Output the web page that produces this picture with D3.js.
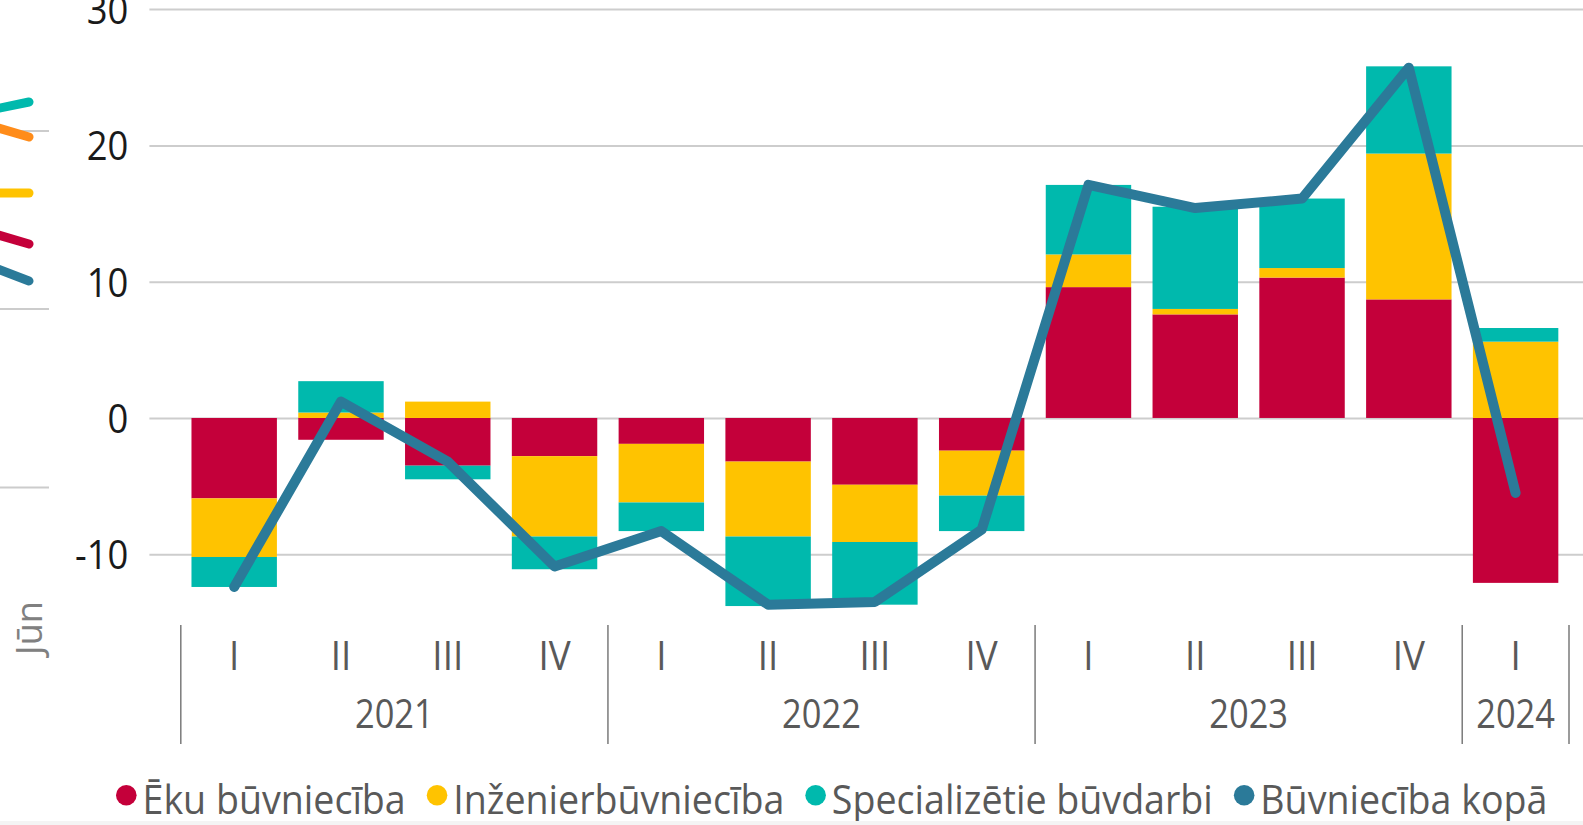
<!DOCTYPE html>
<html>
<head>
<meta charset="utf-8">
<script src="https://cdn.jsdelivr.net/npm/d3@7"></script>
<style>
  body { margin: 0; background: #fff; }
  svg { display: block; font-family: "Open Sans", sans-serif; }
</style>
</head>
<body>
<svg width="1583" height="825"></svg>
<script>
// periods on the x axis (year + quarter)
var years = ["2021", "2022", "2023", "2024"];
var periodYear = ["2021", "2021", "2021", "2021", "2022", "2022", "2022", "2022", "2023", "2023", "2023", "2023", "2024"];
var quarters = ["I", "II", "III", "IV", "I", "II", "III", "IV", "I", "II", "III", "IV", "I"];

// contributions, percentage points
var ekuBuvn = [-5.9, -1.6, -3.5, -2.8, -1.9, -3.2, -4.9, -2.4, 9.6, 7.6, 10.3, 8.7, -12.1];
var inzenierBuvn = [-4.3, 0.4, 1.2, -5.9, -4.3, -5.5, -4.2, -3.3, 2.4, 0.4, 0.7, 10.7, 5.6];
var specBuvdarbi = [-2.2, 2.3, -1.0, -2.4, -2.1, -5.1, -4.6, -2.6, 5.1, 7.5, 5.1, 6.4, 1.0];
// total, %
var buvnKopa = [-12.4, 1.2, -3.2, -10.9, -8.3, -13.7, -13.5, -8.2, 17.1, 15.4, 16.1, 25.7, -5.5];

var yTicks = [-10, 0, 10, 20, 30];

var seriesNames = ["Ēku būvniecība", "Inženierbūvniecība", "Specializētie būvdarbi", "Būvniecība kopā"];
var colors = ["#c4003a", "#ffc300", "#00b9ad", "#2b7a99"];

var svg = d3.select("svg");

var cats = quarters.map(function(q, i) { return periodYear[i] + " " + q; });
var rows = cats.map(function(c, i) {
  return { cat: c, eku: ekuBuvn[i], inz: inzenierBuvn[i], spec: specBuvdarbi[i] };
});

var x = d3.scaleBand().domain(cats).range([180.8, 1569]).paddingInner(0.2).paddingOuter(0.1);
var y = d3.scaleLinear().domain([-15, 30]).range([622.4, 9.1]);

// cropped edge of the neighbouring chart on the left
var edge = svg.append("g");
[131, 309, 487.5].forEach(function(gy) {
  edge.append("line").attr("x1", 0).attr("x2", 49).attr("y1", gy).attr("y2", gy)
    .attr("stroke", "#cccccc").attr("stroke-width", 2);
});
var stubs = [
  ["#00b9ad", 109, 102], ["#ff8c1a", 127, 137], ["#ffc300", 193, 193],
  ["#c4003a", 234, 244], ["#2b7a99", 268, 281]
];
stubs.forEach(function(s) {
  edge.append("line").attr("x1", -5).attr("y1", s[1]).attr("x2", 29).attr("y2", s[2])
    .attr("stroke", s[0]).attr("stroke-width", 9).attr("stroke-linecap", "round");
});
edge.append("text").attr("transform", "translate(42,655) rotate(-90)")
  .attr("font-size", 36).attr("fill", "#808080").text("Jūn");

// grid + y axis
var yAxis = svg.append("g").attr("transform", "translate(149.4,0)")
  .call(d3.axisLeft(y).tickValues(yTicks).tickSize(-(1583 - 149.4)).tickFormat(function(d) { return String(d); }))
  .attr("font-family", null).attr("font-size", null);
yAxis.select(".domain").remove();
yAxis.selectAll(".tick line").attr("stroke", "#cdcdcd").attr("stroke-width", 2);
yAxis.selectAll(".tick text")
  .attr("x", 0).attr("dy", "0.36em")
  .attr("transform", "translate(-21,0) scale(0.91,1)")
  .attr("font-size", 40).attr("fill", "#1a1a1a");

// stacked bars
var stack = d3.stack().keys(["eku", "inz", "spec"]).offset(d3.stackOffsetDiverging);
var layers = stack(rows);

svg.append("g").selectAll("g")
  .data(layers)
  .enter().append("g")
  .attr("fill", function(d, i) { return colors[i]; })
  .selectAll("rect")
  .data(function(d) { return d; })
  .enter().append("rect")
  .attr("x", function(d) { return x(d.data.cat); })
  .attr("y", function(d) { return y(Math.max(d[0], d[1])); })
  .attr("width", x.bandwidth())
  .attr("height", function(d) { return Math.abs(y(d[0]) - y(d[1])); });

// total line
var line = d3.line()
  .x(function(d, i) { return x(cats[i]) + x.bandwidth() / 2; })
  .y(function(d) { return y(d); });

svg.append("path")
  .datum(buvnKopa)
  .attr("d", line)
  .attr("fill", "none")
  .attr("stroke", colors[3])
  .attr("stroke-width", 10)
  .attr("stroke-linejoin", "round")
  .attr("stroke-linecap", "round");

// x axis: quarters
var xAxis = svg.append("g").attr("transform", "translate(0,625)")
  .call(d3.axisBottom(x).tickSize(0).tickPadding(0).tickFormat(function(d, i) { return quarters[i]; }))
  .attr("font-family", null).attr("font-size", null);
xAxis.select(".domain").remove();
xAxis.selectAll(".tick text")
  .attr("y", 45).attr("dy", 0)
  .attr("transform", "scale(0.92,1)")
  .attr("font-size", 40).attr("fill", "#595959");

// x axis: years and separators
var half = x.step() * x.paddingInner() / 2;
var groups = years.map(function(yr) {
  var cs = cats.filter(function(c, i) { return periodYear[i] === yr; });
  return { year: yr, x0: x(cs[0]) - half, x1: x(cs[cs.length - 1]) + x.bandwidth() + half };
});

var yearAxis = svg.append("g");
yearAxis.selectAll("line.sep")
  .data([groups[0].x0].concat(groups.map(function(g) { return g.x1; })))
  .enter().append("line")
  .attr("x1", function(d) { return d; }).attr("x2", function(d) { return d; })
  .attr("y1", 625).attr("y2", 744)
  .attr("stroke", "#7a7a7a").attr("stroke-width", 1.5);

yearAxis.selectAll("text")
  .data(groups)
  .enter().append("text")
  .attr("transform", function(d) { return "translate(" + (d.x0 + d.x1) / 2 + ",727.5) scale(0.84,1)"; })
  .attr("text-anchor", "middle")
  .attr("font-size", 41).attr("fill", "#595959")
  .text(function(d) { return d.year; });

// legend
var legend = svg.append("g").attr("transform", "translate(116,0)");
var lx = 0;
seriesNames.forEach(function(name, i) {
  var item = legend.append("g").attr("transform", "translate(" + lx + ",0)");
  item.append("circle").attr("cx", 10.3).attr("cy", 795.3).attr("r", 10.3).attr("fill", colors[i]);
  var t = item.append("text")
    .attr("transform", "translate(26.5,814) scale(0.94,1)")
    .attr("font-size", 40).attr("fill", "#595959")
    .text(name);
  lx += 26.5 + t.node().getComputedTextLength() * 0.94 + 21;
});

// faint strip at the very bottom
svg.append("rect").attr("x", 0).attr("y", 821).attr("width", 1583).attr("height", 4).attr("fill", "#f4f4f4");
</script>
</body>
</html>
